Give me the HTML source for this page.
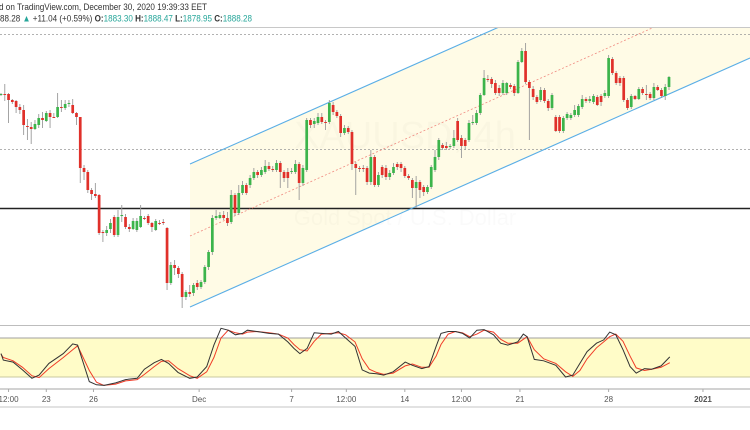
<!DOCTYPE html>
<html><head><meta charset="utf-8">
<style>
html,body{margin:0;padding:0;background:#fff;width:750px;height:430px;overflow:hidden;}
svg{display:block;font-family:"Liberation Sans",sans-serif;}
</style></head>
<body>
<svg id="chart" width="750" height="430" viewBox="0 0 750 430" xmlns="http://www.w3.org/2000/svg">
  <g>
    <text x="-1" y="10" font-size="9.5" fill="#333" textLength="208" lengthAdjust="spacingAndGlyphs">d on TradingView.com, December 30, 2020 19:39:33 EET</text>
    <text x="0" y="21.5" font-size="9.5" fill="#333" textLength="252" lengthAdjust="spacingAndGlyphs">88.28 <tspan fill="#26a69a">▲</tspan> +11.04 (+0.59%) <tspan font-weight="bold">O:</tspan><tspan fill="#26a69a">1883.30</tspan> <tspan font-weight="bold">H:</tspan><tspan fill="#26a69a">1888.47</tspan> <tspan font-weight="bold">L:</tspan><tspan fill="#26a69a">1878.95</tspan> <tspan font-weight="bold">C:</tspan><tspan fill="#26a69a">1888.28</tspan></text>
  </g>
  <line x1="0" y1="27.5" x2="750" y2="27.5" stroke="#c8c8c8" stroke-width="1"/>
  <clipPath id="mainClip"><rect x="0" y="28" width="750" height="294"/></clipPath>
  <g id="main" clip-path="url(#mainClip)"></g>
  <g id="stoch"></g>
  <g id="xaxis"></g>
</svg>
<script>
// Price data (4h candles, XAUUSD)
const opens=[1882.5,1883,1883,1880,1879.5,1876.5,1875,1867,1866.5,1865.5,1867.5,1871,1869.5,1873.5,1871.5,1871.5,1876.5,1876,1878,1877.5,1873.5,1871.5,1846,1844,1835,1833,1832.5,1814,1813.5,1815.5,1821.5,1812.5,1822,1821.5,1816.5,1815.5,1815,1816.5,1821,1822,1818.5,1815,1818.5,1819,1816,1788.5,1797.5,1796,1793,1781.5,1784,1783.5,1788.5,1786.5,1789,1796.5,1804,1821,1821,1822.5,1821,1819,1832.5,1823.5,1833.5,1837.5,1837.5,1841,1844,1842.5,1844,1847,1845.5,1845,1848.5,1844,1844,1844,1844,1848,1838.5,1845,1870,1868,1868.5,1871.5,1869,1869,1877.5,1874,1872,1863.5,1866,1864,1848,1846,1846,1846,1839,1851.5,1837.5,1846.5,1846,1841.5,1843.5,1848,1848,1846,1842,1840,1836,1839,1836.5,1834,1836.5,1845,1851.5,1857.5,1857,1856.5,1857,1869.5,1861,1860,1860,1868.5,1868.5,1873.5,1882.5,1890.5,1890.5,1888.5,1886,1883.5,1883.5,1887.5,1887,1883.5,1899,1904.5,1889,1885.5,1881.5,1880,1885,1879.5,1876,1871.5,1871.5,1864.5,1871,1871,1872.5,1872.5,1876.5,1880.5,1879.5,1879,1881.5,1882,1882,1882,1900.5,1893.5,1891,1891,1880,1876.5,1882,1880.5,1885.5,1883,1883,1881,1886.5,1885,1882,1886.5];
const closes=[1883,1882.5,1880,1879,1876.5,1875,1867.5,1866.5,1865.5,1868,1871,1870,1873.5,1871.5,1871.3,1876.5,1876,1878,1878.5,1873.5,1871.5,1846,1844,1835,1833,1832,1813.5,1813.5,1815,1818.5,1812.5,1821.5,1822.5,1816.5,1815.5,1819.5,1819.5,1822,1820.8,1818.5,1816.5,1819.5,1818.3,1818.5,1788.5,1797.5,1796,1793,1781.5,1784,1783,1787.5,1786.5,1789,1796.5,1804,1821,1822,1822.5,1821,1818.5,1832.5,1823.5,1833.5,1837.5,1833.5,1841,1844,1842.5,1845,1847,1845.5,1845,1848.5,1844,1841,1841,1844.5,1848,1838.5,1846,1870,1867.5,1869.5,1871.5,1869,1868.5,1878.5,1874,1872,1863.5,1866,1864,1848,1846,1845.8,1845.8,1839,1851.5,1837.5,1842.5,1842.5,1841.5,1843.5,1846.5,1846.5,1846,1842,1841,1836,1839,1835,1834,1836.5,1846.5,1851.5,1860,1856,1856,1857,1861,1860,1857,1857,1868.5,1869,1873.5,1882.5,1891,1890.3,1888,1883.5,1883.5,1888.5,1888.5,1886.5,1883.5,1899,1904.5,1889,1886,1881.5,1879,1885,1879.5,1876,1882.5,1864.5,1864.5,1871,1873,1872.5,1875,1877,1880.5,1879.5,1880.5,1882,1877.5,1879,1883.5,1901,1893.5,1888.5,1888.5,1880,1876,1882,1880.5,1885.5,1883.5,1882.8,1881,1886.5,1885,1882,1886.5,1891.5];
const highs=[1883.5,1888,1883.5,1880.5,1880,1878,1877.5,1870.5,1869,1870,1873,1874,1874.5,1875,1873.5,1883.5,1880,1880,1880,1880.5,1874,1871.5,1847.5,1845,1836,1838.5,1833,1815,1817,1820.5,1822.5,1825,1827.5,1823,1818,1821,1821,1827.5,1822,1823,1819,1820.5,1820,1820.5,1816.5,1799,1800,1797,1794,1785,1787.5,1788.5,1790,1790,1797.5,1805,1822.5,1825,1824,1824.5,1824,1835,1833.5,1837.5,1839.5,1838.5,1842.5,1846,1845,1846.5,1850,1849,1847,1850,1849.5,1845,1846,1846,1850,1849,1847.5,1871,1871,1871,1873.5,1873.5,1870,1880,1879,1875,1873,1867.5,1867,1865,1849,1847,1847.5,1847,1855,1852.5,1844,1847.5,1847.5,1845,1848.5,1849,1849,1847,1843,1841,1842,1840,1837.5,1837.5,1847.5,1855,1861,1858.5,1859,1858,1865,1871,1862.5,1861,1870,1872.5,1875,1883.5,1895,1892.5,1891.5,1890,1887.5,1890,1889,1888.5,1888,1900,1906,1908.5,1890,1887,1882.5,1886.5,1886,1880.5,1883.5,1872.5,1872.5,1872,1874,1873.5,1877.5,1878,1882.5,1881.5,1882,1883,1882.5,1883,1885,1902.5,1901.5,1894.5,1892,1892,1881,1883,1882.5,1886.5,1886.5,1887.5,1884,1888.5,1887.5,1886,1888,1892];
const lows=[1882,1879.5,1868.5,1878,1873.5,1873,1862.5,1860,1858,1865,1866,1866,1869,1866,1871,1871,1874,1875,1876.5,1873,1867.5,1838.5,1840,1833.5,1830,1831,1812.5,1809,1812,1813.5,1811.5,1811.5,1819,1815.5,1814,1815,1814,1816,1820,1817.5,1814,1814.5,1817.5,1817.5,1785,1787.5,1792.5,1791,1776,1780,1781.5,1782,1785,1785.5,1788,1795,1802.5,1820,1820.5,1820,1817,1818,1822,1822.5,1832.5,1832.5,1836,1840,1841,1841.5,1843,1844.5,1844,1844,1836,1839,1836,1843,1843,1830,1837,1844,1866,1866,1867.5,1868,1865,1868,1872.5,1871,1861.5,1862.5,1863,1845,1832.5,1844,1844,1837.5,1837.5,1836.5,1836.5,1841,1840,1840,1842.5,1845,1844,1841,1840,1831,1826,1831,1832,1833,1835.5,1844,1850,1855,1855,1855.5,1856,1859,1851,1855,1859,1867.5,1867.5,1872.5,1882,1889,1886,1882.5,1882,1882.5,1882.5,1885.5,1882,1883,1898.5,1888,1860,1880,1878,1879,1878.5,1874.5,1875,1864,1863.5,1863.5,1870,1870,1871.5,1871.5,1875.5,1878.5,1878.5,1878,1877,1877,1881,1881,1892.5,1887.5,1887,1879,1875,1875.5,1880,1880,1882.5,1880,1880,1880,1884.5,1881,1880,1885];
// Stochastic (candle index positions, %K, %D)
const stochIdx=[0,0.6,3.2,5.7,8.2,10.1,12.7,16.5,19,20.3,23.4,25.3,27.3,30.4,33,36.1,38,40.6,42.5,44.4,46.9,50,52,54.5,56.4,58.3,60.2,62.1,64,65.3,67.8,71,73.5,76,77.6,79.2,81.1,83,84.9,87.5,89.4,91.3,93.8,95.7,97.6,99.5,101.4,103.9,107.1,109,111.5,113.4,115.3,116.6,118.5,120.4,122.3,124.2,126.1,128,130.5,132.4,134.3,136.9,138.4,139.4,141.3,143.8,147,149.6,151.5,153.4,155.3,157.8,159.7,161.3,162.9,164.8,166.7,168.3,170.5,172.4,174.9,177.2];
const stochK=[56,46,43,31,18,23,41,56,71,69,13,8,7,11,16,18,32,42,47,41,27,18,20,36,69,95,92,85,87,92,90,87,86,74,64,56,64,88,87,86,90,80,67,31,26,25,23,28,43,38,33,36,67,87,90,90,87,80,92,93,85,72,69,74,86,82,47,45,38,20,23,41,59,72,77,89,85,62,36,26,33,32,37,51];
const stochD=[55,50,45,35,22,19,33,50,62,68,30,12,7,9,14,16,24,36,44,45,33,22,18,28,50,80,92,88,86,89,90,88,86,80,70,62,60,75,86,87,88,85,74,48,32,27,24,26,37,40,35,35,52,70,86,90,88,82,86,92,89,78,72,72,78,82,62,48,41,28,21,30,48,65,74,82,86,75,52,34,30,32,35,42];
// Time axis labels
const tickLabels=["12:00","23","26","Dec","7","12:00","14","12:00","21","28","2021"];
const tickIdx=[2,12,24.5,52.5,77,91.5,107,122,137.5,161,186];

const NS="http://www.w3.org/2000/svg";
function mk(tag,attrs,parent){const e=document.createElementNS(NS,tag);for(const k in attrs)e.setAttribute(k,attrs[k]);parent.appendChild(e);return e;}
const X0=1,STEP=3.774;
const xS=i=>X0+i*STEP;
const yS=p=>(1930-p)*2;
const ySt=v=>390-v*0.65;

const main=document.getElementById('main');
const chan=mk('polygon',{points:"190,164 560,0 750,0 750,58 190,307",fill:"#fffbe6"},main);


const wm1=mk('text',{x:405,y:148,'font-size':38,'text-anchor':'middle',fill:'#000','fill-opacity':'0.018'},main);
wm1.textContent="XAUUSD, 4h";


const wm2=mk('text',{x:405,y:225,'font-size':22,'text-anchor':'middle',fill:'#000','fill-opacity':'0.018'},main);
wm2.textContent="Gold Spot / U.S. Dollar";


const d1=mk('line',{x1:0,y1:34.5,x2:750,y2:34.5,stroke:'#999','stroke-dasharray':'2,2','stroke-width':0.8},main);


const d2=mk('line',{x1:0,y1:149.5,x2:750,y2:149.5,stroke:'#999','stroke-dasharray':'2,2','stroke-width':0.8},main);


const hl=mk('line',{x1:0,y1:208.5,x2:750,y2:208.5,stroke:'#222','stroke-width':1.6},main);


const up=mk('line',{x1:190,y1:164,x2:560,y2:0,stroke:'#5aaee6','stroke-width':1.1},main);


const lo=mk('line',{x1:190,y1:307,x2:750,y2:58,stroke:'#5aaee6','stroke-width':1.1},main);


const mid=mk('line',{x1:190,y1:236,x2:750,y2:-16,stroke:'#f08a80','stroke-dasharray':'2,2','stroke-width':0.8},main);


for(let i=0;i<closes.length;i++){
  const x=xS(i),o=opens[i],c=closes[i];
  const g=mk('g',{},main);
  
  
  mk('line',{x1:x,y1:yS(highs[i]),x2:x,y2:yS(lows[i]),stroke:'#9a9a9a','stroke-width':0.9},g);
  const top=yS(Math.max(o,c)),bot=yS(Math.min(o,c));
  const col=c>o?'#3cb44b':(c<o?'#e0302a':'#888');
  mk('rect',{x:x-1.35,y:top,width:2.7,height:Math.max(bot-top,1),fill:col},g);
}

const st=document.getElementById('stoch');
const sep=mk('line',{x1:0,y1:325.5,x2:750,y2:325.5,stroke:'#bdbdbd','stroke-width':1},st);


const band=mk('rect',{x:0,y:ySt(80),width:750,height:ySt(20)-ySt(80),fill:'#fffcc8'},st);


const b80=mk('line',{x1:0,y1:ySt(80),x2:750,y2:ySt(80),stroke:'#a0a0a0','stroke-width':0.9},st);


const b20=mk('line',{x1:0,y1:ySt(20),x2:750,y2:ySt(20),stroke:'#c8c8a0','stroke-width':0.9},st);


const dPts=stochIdx.map((v,i)=>xS(v).toFixed(1)+','+ySt(stochD[i]).toFixed(1)).join(' ');
const kPts=stochIdx.map((v,i)=>xS(v).toFixed(1)+','+ySt(stochK[i]).toFixed(1)).join(' ');
const dl=mk('polyline',{points:dPts,fill:'none',stroke:'#f03c28','stroke-width':1},st);


const kl=mk('polyline',{points:kPts,fill:'none',stroke:'#333','stroke-width':1},st);



const ax=document.getElementById('xaxis');
const axl=mk('line',{x1:0,y1:389,x2:750,y2:389,stroke:'#c4c4c4','stroke-width':1.6},ax);


const axb=mk('line',{x1:0,y1:407,x2:750,y2:407,stroke:'#c4c4c4','stroke-width':1},ax);


tickLabels.forEach((t,i)=>{
  const x=xS(tickIdx[i]);
  const tk=mk('line',{x1:x,y1:389,x2:x,y2:392,stroke:'#aaa','stroke-width':1},ax);
  
  
  const tx=mk('text',{x:x,y:402,'font-size':8,'text-anchor':'middle',fill:'#555','font-weight':t==='2021'?'bold':'normal'},ax);
  tx.textContent=t;
  
  
});
</script>
</body></html>
